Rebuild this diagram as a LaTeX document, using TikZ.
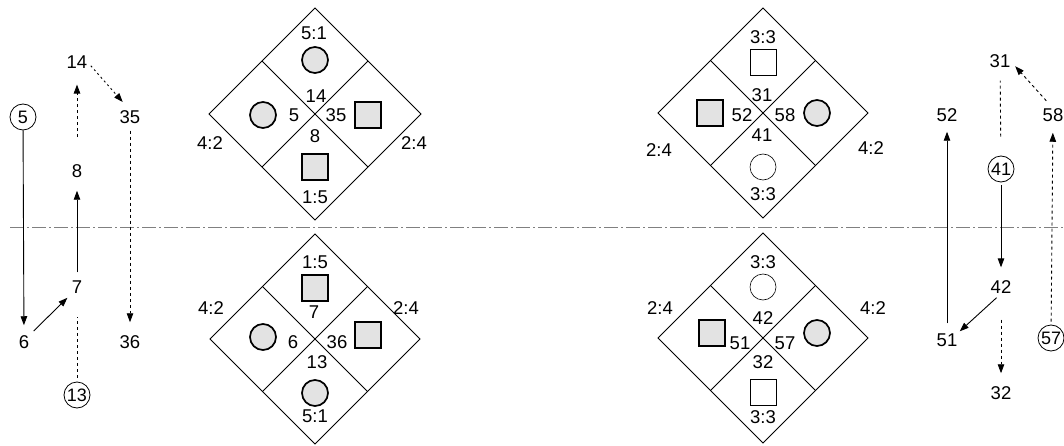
\documentclass[tikz,border=0pt]{standalone}
\usepackage{fontspec}
\setmainfont{Liberation Sans}
\usetikzlibrary{arrows.meta}
\begin{document}
\begin{tikzpicture}[x=1pt,y=-1pt,
  lbl/.style={inner sep=0pt,font=\fontsize{18.5}{20}\selectfont},
  cnum/.style={draw,circle,inner sep=0pt,minimum size=26pt,line width=0.8pt,font=\fontsize{18}{20}\selectfont},
  fcirc/.style={draw,circle,inner sep=0pt,minimum size=26pt,line width=1.7pt,fill=gray!22},
  fsq/.style={draw,rectangle,inner sep=0pt,minimum size=26pt,line width=1.7pt,fill=gray!22},
  wcirc/.style={draw,circle,inner sep=0pt,minimum size=26pt,line width=0.6pt},
  wsq/.style={draw,rectangle,inner sep=0pt,minimum size=26pt,line width=0.6pt},
  dia/.style={line width=0.9pt},
  solidarr/.style={line width=0.9pt,-{Triangle[length=9pt,width=6.5pt]}},
  dasharr/.style={line width=0.9pt,dash pattern=on 3pt off 3pt,-{Triangle[length=9pt,width=6.5pt]}},
  dotarr/.style={line width=0.9pt,dash pattern=on 2pt off 3pt,-{Triangle[length=9pt,width=6.5pt]}},
  dashline/.style={line width=0.9pt,dash pattern=on 3pt off 3pt},
  axis/.style={line width=0.6pt,gray,dash pattern=on 14pt off 3pt on 2pt off 3pt}
]
\useasboundingbox (0,0) rectangle (1064,446);

% horizontal axis
\coordinate (axL) at (10,227);
\coordinate (axR) at (1064,227);
\draw[axis] (axL) -- (axR);

% ---------- left chain ----------
\node[cnum] (c5) at (23,117) {5};
\node[lbl] (t14) at (77,62) {14};
\node[lbl] (t35) at (130,117) {35};
\node[lbl] (t8) at (77,171) {8};
\node[lbl] (t7) at (77,287) {7};
\node[lbl] (t6) at (24,342) {6};
\node[lbl] (t36) at (130,342) {36};
\node[cnum] (c13) at (77,395) {13};

\draw[solidarr,shorten >=10pt] (c5) -- (t6);
\draw[solidarr,shorten <=8pt,shorten >=13pt] (t7) -- (t8);
\draw[dasharr,shorten <=27pt,shorten >=16pt] (t8) -- (t14);
\draw[dotarr,shorten <=5pt,shorten >=11pt] (t14.east) -- (t35.north);
\draw[dasharr,shorten <=7pt,shorten >=13pt] (t35) -- (t36);
\draw[solidarr,shorten <=6pt,shorten >=6pt] (t6.north east) -- (t7.south west);
\draw[dashline,shorten <=4pt,shorten >=23pt] (c13) -- (t7);

% ---------- right chain ----------
\node[lbl] (t31) at (1000,61) {31};
\node[lbl] (t52) at (947,115) {52};
\node[lbl] (t58) at (1053,115) {58};
\node[cnum] (c41) at (1001,169) {41};
\node[lbl] (t42) at (1001,287) {42};
\node[lbl] (t51) at (947,340) {51};
\node[lbl] (t32) at (1001,393) {32};
\node[cnum] (c57) at (1051,338) {57};

\draw[dasharr,shorten <=10pt,shorten >=7pt] (t58.north) -- (t31.east);
\draw[dashline,shorten <=19pt,shorten >=13pt] (c41) -- (t31);
\draw[solidarr,shorten <=10pt,shorten >=10pt] (t51) -- (t52);
\draw[solidarr,shorten <=3pt,shorten >=13pt] (c41) -- (t42);
\draw[solidarr,shorten <=6pt,shorten >=3pt] (t42.south) -- (t51.north east);
\draw[dasharr,shorten <=26pt,shorten >=13pt] (t42) -- (t32);
\draw[dasharr,shorten <=3pt,shorten >=11pt] (c57) -- (t58);

% Top-left diamond, center (315,114), half diagonal 106
\draw[dia] (315,8) -- (421,114) -- (315,220) -- (209,114) -- cycle;
\draw[dia] (262,61) -- (368,167);
\draw[dia] (368,61) -- (262,167);
\node[lbl] (a1) at (314,33) {5:1};
\node[fcirc] (a2) at (315,60) {};
\node[lbl] (a3) at (316,96) {14};
\node[lbl] (a4) at (294,115) {5};
\node[lbl] (a5) at (336,115) {35};
\node[lbl] (a6) at (315,136) {8};
\node[fcirc] (a7) at (263,115) {};
\node[fsq] (a8) at (368,115) {};
\node[fsq] (a9) at (315,167) {};
\node[lbl] (a10) at (315,197) {1:5};
\node[lbl] (a11) at (210,143) {4:2};
\node[lbl] (a12) at (414,143) {2:4};

% Bottom-left diamond, center (315,339)
\draw[dia] (315,234) -- (420,339) -- (315,444) -- (210,339) -- cycle;
\draw[dia] (262.5,286.5) -- (367.5,391.5);
\draw[dia] (367.5,286.5) -- (262.5,391.5);
\node[lbl] (b1) at (315,262) {1:5};
\node[fsq] (b2) at (315,288) {};
\node[lbl] (b3) at (314,312) {7};
\node[lbl] (b4) at (293,342) {6};
\node[lbl] (b5) at (337,342) {36};
\node[lbl] (b6) at (317,362) {13};
\node[fcirc] (b7) at (263,337) {};
\node[fsq] (b8) at (368,335) {};
\node[fcirc] (b9) at (315,393) {};
\node[lbl] (b10) at (315,416) {5:1};
\node[lbl] (b11) at (211,308) {4:2};
\node[lbl] (b12) at (406,308) {2:4};

% Top-right diamond, center (763,113)
\draw[dia] (763,8) -- (868,113) -- (763,218) -- (658,113) -- cycle;
\draw[dia] (710.5,60.5) -- (815.5,165.5);
\draw[dia] (815.5,60.5) -- (710.5,165.5);
\node[lbl] (d1) at (763,37) {3:3};
\node[wsq] (d2) at (763,62) {};
\node[lbl] (d3) at (762,95) {31};
\node[lbl] (d4) at (742,115) {52};
\node[lbl] (d5) at (785,115) {58};
\node[fsq] (d6) at (710,113) {};
\node[fcirc] (d7) at (817,113) {};
\node[lbl] (d8) at (762,135) {41};
\node[wcirc] (d9) at (763,167) {};
\node[lbl] (d10) at (763,194) {3:3};
\node[lbl] (d11) at (659,150) {2:4};
\node[lbl] (d12) at (871,148) {4:2};

% Bottom-right diamond, center (763,338)
\draw[dia] (763,233) -- (868,338) -- (763,443) -- (658,338) -- cycle;
\draw[dia] (710.5,285.5) -- (815.5,390.5);
\draw[dia] (815.5,285.5) -- (710.5,390.5);
\node[lbl] (e1) at (763,262) {3:3};
\node[wcirc] (e2) at (763,287) {};
\node[lbl] (e3) at (763,318) {42};
\node[lbl] (e4) at (740,343) {51};
\node[lbl] (e5) at (785,343) {57};
\node[fsq] (e6) at (712,333) {};
\node[fcirc] (e7) at (817,333) {};
\node[lbl] (e8) at (763,362) {32};
\node[wsq] (e9) at (763,392) {};
\node[lbl] (e10) at (763,417) {3:3};
\node[lbl] (e11) at (660,308) {2:4};
\node[lbl] (e12) at (873,308) {4:2};
\end{tikzpicture}
\end{document}
